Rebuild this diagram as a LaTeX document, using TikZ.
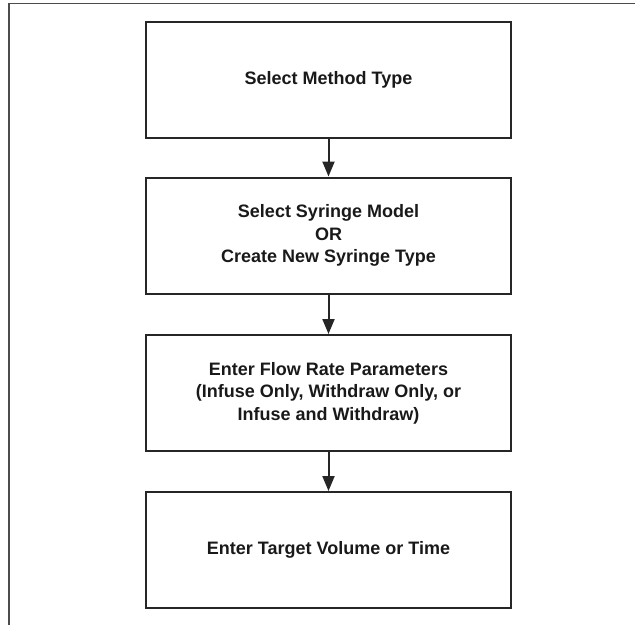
\documentclass[tikz,border=0pt]{standalone}
\usepackage{fontspec}
\setmainfont{Liberation Sans}
\usetikzlibrary{arrows.meta}

\begin{document}
\begin{tikzpicture}[x=1pt, y=-1pt,
    stepbox/.style={draw=black!85, line width=2pt, minimum width=365pt, minimum height=116pt,
        inner sep=0pt, align=center, font=\fontsize{18}{22.5}\selectfont\bfseries, text=black!90},
    flow/.style={line width=2pt, draw=black!85, -{Triangle[length=15pt, width=12pt]}}]
    \useasboundingbox (0,0) rectangle (635,625);

    % frame
    \draw[black!70, line width=1.2pt] (9,625) -- (9,3.5) -- (635,3.5);

    % steps
    \node[stepbox] (method)  at (328.5, 80)  {Select Method Type};
    \node[stepbox] (syringe) at (328.5, 235.5) {Select Syringe Model\\OR\\Create New Syringe Type};
    \node[stepbox] (rate)    at (328.5, 393) {Enter Flow Rate Parameters\\(Infuse Only, Withdraw Only, or\\Infuse and Withdraw)};
    \node[stepbox] (target)  at (328.5, 550) {Enter Target Volume or Time};

    % arrows
    \draw[flow] (method) -- (syringe);
    \draw[flow] (syringe) -- (rate);
    \draw[flow] (rate) -- (target);
\end{tikzpicture}
\end{document}
